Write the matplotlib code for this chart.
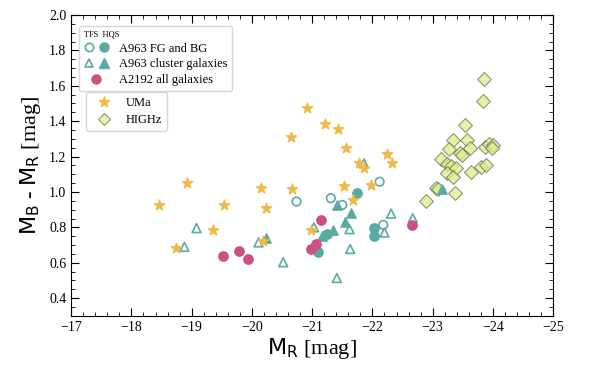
import matplotlib
matplotlib.use('Agg')
import matplotlib.pyplot as plt
from matplotlib.lines import Line2D
from matplotlib.legend_handler import HandlerTuple
from matplotlib.ticker import MultipleLocator

plt.rcParams['font.family'] = ['Liberation Serif', 'DejaVu Serif']
plt.rcParams['mathtext.fontset'] = 'dejavusans'

# Data
uma_mr = [-20.92, -20.65, -21.22, -21.43, -21.57, -21.78, -21.86, -22.25, -22.32, -18.92, -18.46,
          -19.54, -20.15, -20.66, -20.23, -21.53, -21.68, -21.97, -19.35, -18.74, -20.18, -20.98]
uma_col = [1.475, 1.31, 1.385, 1.357, 1.25, 1.165, 1.137, 1.212, 1.161, 1.049, 0.925,
           0.925, 1.025, 1.019, 0.912, 1.034, 0.953, 1.038, 0.786, 0.683, 0.724, 0.786]

highz_mr = [-23.85, -23.84, -23.54, -23.33, -23.57, -23.27, -23.62, -23.46, -23.48, -23.87, -23.93,
            -24.00, -23.99, -23.14, -23.24, -23.30, -23.38, -23.23, -23.34, -23.64, -23.81, -23.88,
            -23.05, -23.09, -23.37, -22.89]
highz_col = [1.64, 1.512, 1.379, 1.291, 1.293, 1.244, 1.25, 1.218, 1.21, 1.255, 1.272,
             1.263, 1.246, 1.184, 1.156, 1.146, 1.133, 1.109, 1.087, 1.115, 1.143, 1.15,
             1.025, 1.015, 0.997, 0.949]

fg_tfs_mr = [-20.74, -21.31, -21.50, -22.12, -22.18]
fg_tfs_col = [0.946, 0.965, 0.927, 1.058, 0.814]
fg_hqs_mr = [-21.74, -21.09, -22.03, -22.03, -21.25]
fg_hqs_col = [0.993, 0.662, 0.794, 0.752, 0.762]

cl_tfs_mr = [-19.08, -18.88, -20.11, -20.52, -21.41, -21.03, -21.62, -21.63, -21.86, -22.31, -22.20, -22.67]
cl_tfs_col = [0.796, 0.69, 0.715, 0.603, 0.514, 0.80, 0.79, 0.678, 1.161, 0.878, 0.771, 0.852]
cl_hqs_mr = [-20.23, -21.42, -21.65, -21.54, -21.35, -21.17, -23.15]
cl_hqs_col = [0.738, 0.927, 0.88, 0.833, 0.784, 0.752, 1.015]

a2192_mr = [-19.52, -19.78, -19.94, -21.15, -21.06, -20.98, -22.65]
a2192_col = [0.64, 0.666, 0.621, 0.841, 0.706, 0.678, 0.813]

teal = '#5aaaa2'
pink = '#cc4f86'
gold = '#f0b948'

fig = plt.figure(figsize=(5.98, 3.66), dpi=100)
ax = fig.add_axes([0.119, 0.137, 0.806, 0.822])

ax.scatter(highz_mr, highz_col, marker='D', s=50, facecolor='#d8f08c', edgecolor='#6f7350',
           linewidth=0.8, alpha=0.75, zorder=2)
ax.scatter(cl_tfs_mr, cl_tfs_col, marker='^', s=40, facecolor='none', edgecolor=teal, linewidth=1.2, zorder=3)
ax.scatter(cl_hqs_mr, cl_hqs_col, marker='^', s=45, color=teal, zorder=3)
ax.scatter(fg_tfs_mr, fg_tfs_col, marker='o', s=38, facecolor='none', edgecolor=teal, linewidth=1.2, zorder=3)
ax.scatter(fg_hqs_mr, fg_hqs_col, marker='o', s=45, color=teal, zorder=3)
ax.scatter(a2192_mr, a2192_col, marker='o', s=45, color=pink, zorder=3)
ax.scatter(uma_mr, uma_col, marker='*', s=60, color=gold, zorder=4)

ax.set_xlim(-17, -25)
ax.set_ylim(0.3, 2.0)
ax.xaxis.set_major_locator(MultipleLocator(1))
ax.xaxis.set_minor_locator(MultipleLocator(0.2))
ax.yaxis.set_minor_locator(MultipleLocator(0.05))
ax.set_yticks([0.4, 0.6, 0.8, 1.0, 1.2, 1.4, 1.6, 1.8, 2.0])
ax.tick_params(which='both', direction='in', top=True, right=True, labelsize=10)
ax.tick_params(which='major', length=6)
ax.tick_params(which='minor', length=3)

ax.set_xlabel(r'$\mathrm{M_R}$ [mag]', fontsize=16, labelpad=2)
ax.set_ylabel(r'$\mathrm{M_B}$ - $\mathrm{M_R}$ [mag]', fontsize=16, labelpad=4)

# legend 1: TFS / HQS pairs
h_oc = Line2D([], [], ls='none', marker='o', ms=6, mfc='none', mec=teal, mew=1.2)
h_fc = Line2D([], [], ls='none', marker='o', ms=6.5, color=teal)
h_ot = Line2D([], [], ls='none', marker='^', ms=6, mfc='none', mec=teal, mew=1.2)
h_ft = Line2D([], [], ls='none', marker='^', ms=6.5, color=teal)
h_pk = Line2D([], [], ls='none', marker='o', ms=6.5, color=pink)
leg1 = ax.legend([(h_oc, h_fc), (h_ot, h_ft), h_pk],
                 ['A963 FG and BG', 'A963 cluster galaxies', 'A2192 all galaxies'],
                 handler_map={tuple: HandlerTuple(ndivide=None, pad=0.4)},
                 loc='upper left', bbox_to_anchor=(0.003, 0.985), fontsize=9,
                 title='TFS  HQS', title_fontsize=6, alignment='left',
                 handlelength=2.0, handletextpad=0.8, labelspacing=0.3, borderpad=0.4)
ax.add_artist(leg1)

h_st = Line2D([], [], ls='none', marker='*', ms=8, color=gold)
h_dm = Line2D([], [], ls='none', marker='D', ms=6.5, mfc='#d8f08c', mec='#6f7350', mew=0.8, alpha=0.75)
ax.legend([h_st, h_dm], ['UMa', 'HIGHz'], loc='upper left', bbox_to_anchor=(0.018, 0.765),
          fontsize=9, handlelength=2.0, handletextpad=0.8, labelspacing=0.4, borderpad=0.4)

fig.savefig('out.png', dpi=100)
